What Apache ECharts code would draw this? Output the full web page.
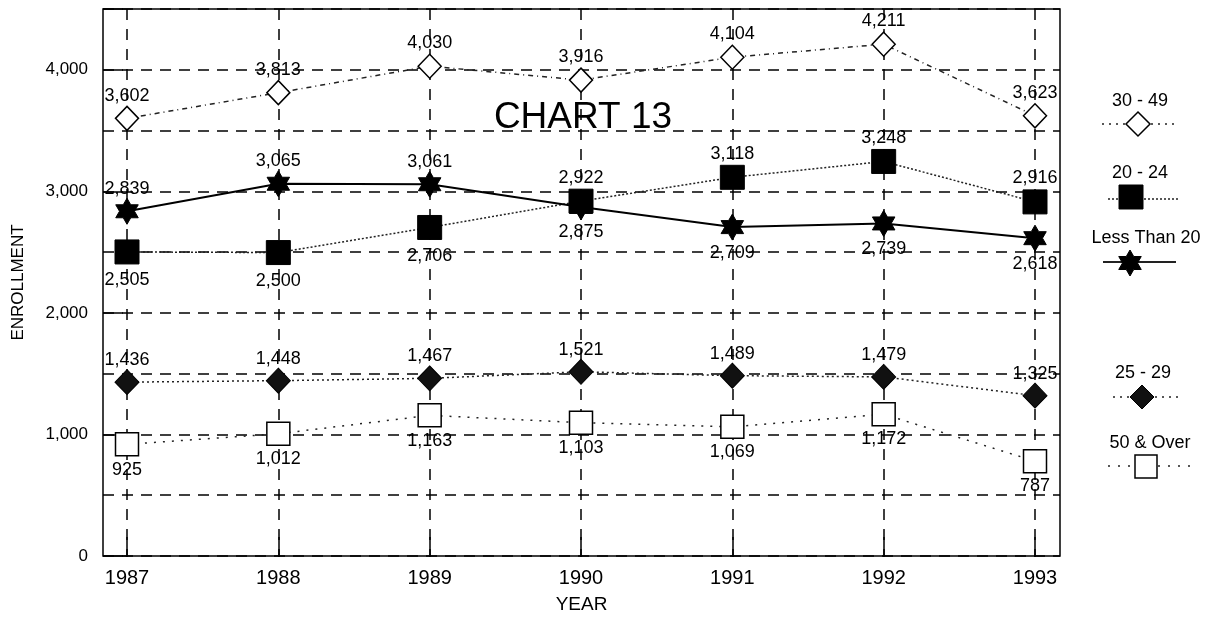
<!DOCTYPE html>
<html><head><meta charset="utf-8">
<script src="https://cdn.jsdelivr.net/npm/echarts@6/dist/echarts.min.js"></script>
<style>html,body{margin:0;padding:0;background:#fff}#c{width:1213px;height:619px}</style>
</head><body><div id="c"></div>
<script>
const years = ['1987','1988','1989','1990','1991','1992','1993'];
const s3049   = [3602, 3813, 4030, 3916, 4104, 4211, 3623];
const s2024   = [2505, 2500, 2706, 2922, 3118, 3248, 2916];
const sLess20 = [2839, 3065, 3061, 2875, 2709, 2739, 2618];
const s2529   = [1436, 1448, 1467, 1521, 1489, 1479, 1325];
const s50over = [925, 1012, 1163, 1103, 1069, 1172, 787];
const yMax = 4500;

const FONT = '"Liberation Sans", Arial, sans-serif';
const fmt = v => Number(v).toLocaleString('en-US');
const STAR = 'path://M10 0 L12.89 5 L18.66 5 L15.77 10 L18.66 15 L12.89 15 L10 20 L7.11 15 L1.34 15 L4.23 10 L1.34 5 L7.11 5 Z';
const lbl = (pos, dist) => ({show:true, position:pos, distance:dist, fontSize:18, color:'#000', fontFamily:FONT, formatter:p=>fmt(p.value)});

// label placement derived from data: the 20-24 and Less Than 20 labels go away from each other
const d2024 = s2024.map((v,i)=>({value:v, label: v < sLess20[i] ? lbl('bottom',7) : lbl('top',2)}));
const dLess = sLess20.map((v,i)=>({value:v, label: v <= s2024[i] ? lbl('bottom',3) : lbl('top',0)}));

function starPoints(cx, cy, r){
  const pts = [];
  for (let k = 0; k < 12; k++) {
    const a = (-90 + k*30) * Math.PI/180;
    const rr = k % 2 === 0 ? r : r/Math.sqrt(3);
    pts.push([cx + rr*Math.cos(a), cy + rr*Math.sin(a)]);
  }
  return pts;
}

const chart = echarts.init(document.getElementById('c'), null, {renderer:'canvas'});
const dashGrid = {show:true, lineStyle:{color:'#000', width:1.5, type:[11,8]}};

function legendText(t, x, y){ return {type:'text', x:x, y:y, style:{text:t, fill:'#000', font:'18px '+FONT, textAlign:'center', textVerticalAlign:'middle'}}; }
function legendLine(x1,x2,y,dash,w){ return {type:'line', shape:{x1:x1,y1:y,x2:x2,y2:y}, style:{stroke:'#222', lineWidth:w||1.5, lineDash:dash}}; }

const option = {
  animation:false,
  backgroundColor:'#fff',
  textStyle:{fontFamily:FONT},
  grid:[
    {left:103, right:153, top:9, bottom:62, show:true, borderColor:'#000', borderWidth:1.5, backgroundColor:'transparent'},
    {left:127, right:178, top:9, bottom:62}
  ],
  xAxis:[
    {gridIndex:0, type:'value', min:0, max:1, axisLine:{show:false}, axisTick:{show:false}, axisLabel:{show:false}, splitLine:{show:false},
     name:'YEAR', nameLocation:'middle', nameGap:39, nameTextStyle:{fontSize:19, color:'#000', fontFamily:FONT}},
    {gridIndex:1, type:'category', data:years, boundaryGap:false, axisLine:{show:false},
     axisTick:{show:true, inside:true, length:20, lineStyle:{color:'#000', width:1.5}},
     axisLabel:{fontSize:20, color:'#000', margin:11, fontFamily:FONT},
     splitLine:{show:true, lineStyle:{color:'#000', width:1.5, type:[11,9]}}}
  ],
  yAxis:[
    {gridIndex:0, type:'value', position:'left', min:0, max:yMax, interval:500, axisLine:{show:false}, axisTick:{show:false}, axisLabel:{show:false}, splitLine:dashGrid},
    {gridIndex:0, type:'value', position:'left', min:0, max:yMax, interval:1000, axisLine:{show:false},
     axisTick:{show:true, inside:true, length:20, lineStyle:{color:'#000', width:1.5}},
     axisLabel:{fontSize:17, color:'#000', margin:15, fontFamily:FONT, formatter:v=> v%1000===0 ? fmt(v) : ''},
     splitLine:{show:false},
     name:'ENROLLMENT', nameLocation:'middle', nameGap:76, nameRotate:90, nameTextStyle:{fontSize:17, color:'#000', fontFamily:FONT}},
    {gridIndex:1, type:'value', position:'left', min:0, max:yMax, show:false, splitLine:{show:false}}
  ],
  series:[
    {name:'30 - 49', type:'line', xAxisIndex:1, yAxisIndex:2, data:s3049, symbol:'diamond', symbolSize:[23,24],
     itemStyle:{color:'#fff', borderColor:'#000', borderWidth:1.5}, lineStyle:{color:'#222', width:1.5, type:[5,4,1,4]},
     label:lbl('top',1), z:3},
    {name:'20 - 24', type:'line', xAxisIndex:1, yAxisIndex:2, data:d2024, symbol:'rect', symbolSize:24,
     itemStyle:{color:'#000', borderColor:'#000', borderWidth:1}, lineStyle:{color:'#222', width:1.5, type:[2,2]}, z:4},
    {name:'Less Than 20', type:'line', xAxisIndex:1, yAxisIndex:2, data:dLess, symbol:STAR, symbolSize:26, symbolKeepAspect:true,
     itemStyle:{color:'#000', borderColor:'#000', borderWidth:1}, lineStyle:{color:'#000', width:2, type:'solid'}, z:5},
    {name:'25 - 29', type:'line', xAxisIndex:1, yAxisIndex:2, data:s2529, symbol:'diamond', symbolSize:[24,25],
     itemStyle:{color:'#111', borderColor:'#000', borderWidth:1}, lineStyle:{color:'#222', width:1.5, type:[2,3]},
     label:lbl('top',0), z:3},
    {name:'50 & Over', type:'line', xAxisIndex:1, yAxisIndex:2, data:s50over, symbol:'rect', symbolSize:23,
     itemStyle:{color:'#fff', borderColor:'#000', borderWidth:1.5}, lineStyle:{color:'#222', width:1.5, type:[2,7]},
     label:lbl('bottom',4), z:3}
  ],
  graphic:[
    {type:'text', x:583, y:118, z:10, style:{text:'CHART 13', fill:'#000', font:'37px '+FONT, textAlign:'center', textVerticalAlign:'middle'}},
    legendText('30 - 49', 1140, 101),
    legendLine(1102, 1178, 124, [2,5], 1.5),
    {type:'polygon', shape:{points:[[1138,112],[1150,124],[1138,136],[1126,124]]}, style:{fill:'#fff', stroke:'#000', lineWidth:1.5}},
    legendText('20 - 24', 1140, 173),
    legendLine(1108, 1180, 199, [2,2], 1.5),
    {type:'rect', shape:{x:1119, y:185, width:24, height:24}, style:{fill:'#000', stroke:'#000'}},
    legendText('Less Than 20', 1146, 238),
    legendLine(1103, 1176, 262, null, 2),
    {type:'polygon', shape:{points:starPoints(1130, 263, 13)}, style:{fill:'#000', stroke:'#000'}},
    legendText('25 - 29', 1143, 373),
    legendLine(1113, 1183, 397, [2,5], 1.5),
    {type:'polygon', shape:{points:[[1142,385],[1154,397],[1142,409],[1130,397]]}, style:{fill:'#111', stroke:'#000', lineWidth:1}},
    legendText('50 & Over', 1150, 443),
    legendLine(1108, 1190, 466, [2,8], 1.5),
    {type:'rect', shape:{x:1135, y:455, width:22, height:23}, style:{fill:'#fff', stroke:'#000', lineWidth:1.5}}
  ]
};
chart.setOption(option);
</script>
</body></html>
